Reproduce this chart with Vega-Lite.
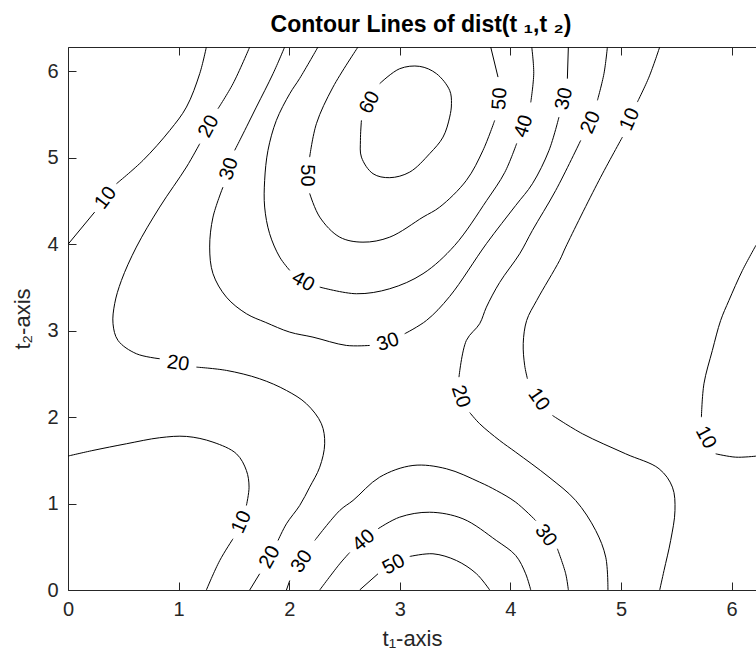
{
  "$schema": "https://vega.github.io/schema/vega-lite/v6.json",
  "width": 688,
  "height": 543,
  "autosize": "none",
  "padding": {"left": 68, "top": 47, "right": 0, "bottom": 74},
  "background": "white",
  "config": {"view": {"stroke": null}, "font": "Liberation Sans"},
  "title": {"text": "Contour Lines of dist(t ₁,t ₂)", "font": "Liberation Sans", "fontSize": 23, "fontWeight": "bold", "color": "#000000", "anchor": "middle", "baseline": "alphabetic", "offset": 17, "dx": 9, "dy": 25},
  "datasets": {
    "lines": [
      {"s":"a1","i":0,"t1":0,"t2":4.0},{"s":"a1","i":1,"t1":0.241,"t2":4.373},
      {"s":"a2","i":0,"t1":0.438,"t2":4.701},{"s":"a2","i":1,"t1":0.678,"t2":4.971},{"s":"a2","i":2,"t1":0.92,"t2":5.318},{"s":"a2","i":3,"t1":1.071,"t2":5.588},{"s":"a2","i":4,"t1":1.191,"t2":5.975},{"s":"a2","i":5,"t1":1.251,"t2":6.283},
      {"s":"b1","i":0,"t1":1.643,"t2":6.283},{"s":"b1","i":1,"t1":1.492,"t2":5.859},{"s":"b1","i":2,"t1":1.356,"t2":5.569},
      {"s":"b2","i":0,"t1":1.191,"t2":5.164},{"s":"b2","i":1,"t1":1.071,"t2":4.894},{"s":"b2","i":2,"t1":0.829,"t2":4.431},{"s":"b2","i":3,"t1":0.618,"t2":3.968},{"s":"b2","i":4,"t1":0.483,"t2":3.582},{"s":"b2","i":5,"t1":0.422,"t2":3.313},{"s":"b2","i":6,"t1":0.407,"t2":3.081},{"s":"b2","i":7,"t1":0.452,"t2":2.888},{"s":"b2","i":8,"t1":0.618,"t2":2.734},{"s":"b2","i":9,"t1":0.829,"t2":2.676},
      {"s":"b3","i":0,"t1":1.161,"t2":2.579},{"s":"b3","i":1,"t1":1.432,"t2":2.541},{"s":"b3","i":2,"t1":1.733,"t2":2.444},{"s":"b3","i":3,"t1":1.975,"t2":2.309},{"s":"b3","i":4,"t1":2.156,"t2":2.155},{"s":"b3","i":5,"t1":2.291,"t2":1.924},{"s":"b3","i":6,"t1":2.321,"t2":1.692},{"s":"b3","i":7,"t1":2.276,"t2":1.421},{"s":"b3","i":8,"t1":2.185,"t2":1.19},{"s":"b3","i":9,"t1":2.095,"t2":0.978},{"s":"b3","i":10,"t1":1.975,"t2":0.766},{"s":"b3","i":11,"t1":1.899,"t2":0.573},
      {"s":"b4","i":0,"t1":1.733,"t2":0.188},{"s":"b4","i":1,"t1":1.643,"t2":0},
      {"s":"c1","i":0,"t1":1.959,"t2":6.283},{"s":"c1","i":1,"t1":1.854,"t2":5.975},{"s":"c1","i":2,"t1":1.703,"t2":5.588},{"s":"c1","i":3,"t1":1.568,"t2":5.241},{"s":"c1","i":4,"t1":1.507,"t2":5.087},
      {"s":"c2","i":0,"t1":1.401,"t2":4.662},{"s":"c2","i":1,"t1":1.311,"t2":4.315},{"s":"c2","i":2,"t1":1.281,"t2":3.968},{"s":"c2","i":3,"t1":1.311,"t2":3.66},{"s":"c2","i":4,"t1":1.432,"t2":3.389},{"s":"c2","i":5,"t1":1.613,"t2":3.197},{"s":"c2","i":6,"t1":1.788,"t2":3.096},{"s":"c2","i":7,"t1":2.005,"t2":2.984},{"s":"c2","i":8,"t1":2.215,"t2":2.926},{"s":"c2","i":9,"t1":2.517,"t2":2.83},{"s":"c2","i":10,"t1":2.728,"t2":2.83},
      {"s":"c3","i":0,"t1":3.044,"t2":2.965},{"s":"c3","i":1,"t1":3.241,"t2":3.119},{"s":"c3","i":2,"t1":3.451,"t2":3.397},{"s":"c3","i":3,"t1":3.783,"t2":4.007},{"s":"c3","i":4,"t1":4.048,"t2":4.45},{"s":"c3","i":5,"t1":4.199,"t2":4.701},{"s":"c3","i":6,"t1":4.349,"t2":5.087},{"s":"c3","i":7,"t1":4.439,"t2":5.472},
      {"s":"c4","i":0,"t1":4.515,"t2":5.917},{"s":"c4","i":1,"t1":4.524,"t2":6.283},
      {"s":"d1","i":0,"t1":2.26,"t2":6.283},{"s":"d1","i":1,"t1":2.095,"t2":5.92},{"s":"d1","i":2,"t1":2.005,"t2":5.743},{"s":"d1","i":3,"t1":1.884,"t2":5.434},{"s":"d1","i":4,"t1":1.808,"t2":5.087},{"s":"d1","i":5,"t1":1.778,"t2":4.74},{"s":"d1","i":6,"t1":1.778,"t2":4.431},{"s":"d1","i":7,"t1":1.823,"t2":4.123},{"s":"d1","i":8,"t1":1.914,"t2":3.852},{"s":"d1","i":9,"t1":2.005,"t2":3.698},
      {"s":"d2","i":0,"t1":2.276,"t2":3.505},{"s":"d2","i":1,"t1":2.608,"t2":3.428},{"s":"d2","i":2,"t1":2.909,"t2":3.486},{"s":"d2","i":3,"t1":3.21,"t2":3.66},{"s":"d2","i":4,"t1":3.496,"t2":3.987},{"s":"d2","i":5,"t1":3.786,"t2":4.508},{"s":"d2","i":6,"t1":3.949,"t2":4.832},{"s":"d2","i":7,"t1":4.057,"t2":5.168},
      {"s":"d3","i":0,"t1":4.184,"t2":5.642},{"s":"d3","i":1,"t1":4.211,"t2":5.978},{"s":"d3","i":2,"t1":4.193,"t2":6.283},
      {"s":"e1","i":0,"t1":2.622,"t2":6.283},{"s":"e1","i":1,"t1":2.396,"t2":5.819},{"s":"e1","i":2,"t1":2.246,"t2":5.396},{"s":"e1","i":3,"t1":2.185,"t2":5.009},
      {"s":"e2","i":0,"t1":2.185,"t2":4.589},{"s":"e2","i":1,"t1":2.276,"t2":4.315},{"s":"e2","i":2,"t1":2.457,"t2":4.083},{"s":"e2","i":3,"t1":2.667,"t2":4.025},{"s":"e2","i":4,"t1":2.909,"t2":4.083},{"s":"e2","i":5,"t1":3.21,"t2":4.315},{"s":"e2","i":6,"t1":3.361,"t2":4.431},{"s":"e2","i":7,"t1":3.602,"t2":4.74},{"s":"e2","i":8,"t1":3.752,"t2":5.087},{"s":"e2","i":9,"t1":3.858,"t2":5.434},
      {"s":"e3","i":0,"t1":3.888,"t2":5.935},{"s":"e3","i":1,"t1":3.822,"t2":6.283},
      {"s":"f1","i":0,"t1":2.818,"t2":5.859},{"s":"f1","i":1,"t1":2.999,"t2":6.032},{"s":"f1","i":2,"t1":3.18,"t2":6.059},{"s":"f1","i":3,"t1":3.331,"t2":5.975},{"s":"f1","i":4,"t1":3.451,"t2":5.781},{"s":"f1","i":5,"t1":3.467,"t2":5.627},{"s":"f1","i":6,"t1":3.451,"t2":5.472},{"s":"f1","i":7,"t1":3.391,"t2":5.241},{"s":"f1","i":8,"t1":3.27,"t2":5.049},{"s":"f1","i":9,"t1":3.09,"t2":4.836},{"s":"f1","i":10,"t1":2.909,"t2":4.771},{"s":"f1","i":11,"t1":2.758,"t2":4.817},{"s":"f1","i":12,"t1":2.653,"t2":5.009},{"s":"f1","i":13,"t1":2.644,"t2":5.203},{"s":"f1","i":14,"t1":2.653,"t2":5.434},
      {"s":"g1","i":0,"t1":1.975,"t2":0},{"s":"g1","i":1,"t1":2.005,"t2":0.11},
      {"s":"g2","i":0,"t1":2.231,"t2":0.573},{"s":"g2","i":1,"t1":2.457,"t2":0.92},{"s":"g2","i":2,"t1":2.577,"t2":1.036},{"s":"g2","i":3,"t1":2.818,"t2":1.306},{"s":"g2","i":4,"t1":3.119,"t2":1.441},{"s":"g2","i":5,"t1":3.421,"t2":1.403},{"s":"g2","i":6,"t1":3.722,"t2":1.248},{"s":"g2","i":7,"t1":3.873,"t2":1.152},{"s":"g2","i":8,"t1":4.048,"t2":1.016},{"s":"g2","i":9,"t1":4.229,"t2":0.804},
      {"s":"g3","i":0,"t1":4.425,"t2":0.477},{"s":"g3","i":1,"t1":4.5,"t2":0.188},{"s":"g3","i":2,"t1":4.524,"t2":0},
      {"s":"h1","i":0,"t1":2.276,"t2":0},{"s":"h1","i":1,"t1":2.457,"t2":0.303},{"s":"h1","i":2,"t1":2.547,"t2":0.434},
      {"s":"h2","i":0,"t1":2.803,"t2":0.708},{"s":"h2","i":1,"t1":2.999,"t2":0.843},{"s":"h2","i":2,"t1":3.27,"t2":0.9},{"s":"h2","i":3,"t1":3.571,"t2":0.824},{"s":"h2","i":4,"t1":3.873,"t2":0.573},{"s":"h2","i":5,"t1":4.048,"t2":0.399},{"s":"h2","i":6,"t1":4.138,"t2":0.188},{"s":"h2","i":7,"t1":4.184,"t2":0},
      {"s":"k1","i":0,"t1":2.637,"t2":0},{"s":"k1","i":1,"t1":2.803,"t2":0.188},
      {"s":"k2","i":0,"t1":3.09,"t2":0.388},{"s":"k2","i":1,"t1":3.3,"t2":0.419},{"s":"k2","i":2,"t1":3.512,"t2":0.341},{"s":"k2","i":3,"t1":3.693,"t2":0.188},{"s":"k2","i":4,"t1":3.813,"t2":0},
      {"s":"m1","i":0,"t1":4.877,"t2":6.283},{"s":"m1","i":1,"t1":4.846,"t2":5.975},{"s":"m1","i":2,"t1":4.787,"t2":5.666},
      {"s":"m2","i":0,"t1":4.636,"t2":5.203},{"s":"m2","i":1,"t1":4.41,"t2":4.624},{"s":"m2","i":2,"t1":4.199,"t2":4.161},{"s":"m2","i":3,"t1":4.084,"t2":3.891},{"s":"m2","i":4,"t1":3.903,"t2":3.559},{"s":"m2","i":5,"t1":3.783,"t2":3.273},{"s":"m2","i":6,"t1":3.722,"t2":3.081},{"s":"m2","i":7,"t1":3.602,"t2":2.888},{"s":"m2","i":8,"t1":3.535,"t2":2.463},
      {"s":"m3","i":0,"t1":3.632,"t2":2.054},{"s":"m3","i":1,"t1":3.722,"t2":1.924},{"s":"m3","i":2,"t1":3.903,"t2":1.73},{"s":"m3","i":3,"t1":4.048,"t2":1.595},{"s":"m3","i":4,"t1":4.349,"t2":1.306},{"s":"m3","i":5,"t1":4.59,"t2":1.036},{"s":"m3","i":6,"t1":4.771,"t2":0.689},{"s":"m3","i":7,"t1":4.862,"t2":0.38},{"s":"m3","i":8,"t1":4.882,"t2":0},
      {"s":"n1","i":0,"t1":5.35,"t2":6.283},{"s":"n1","i":1,"t1":5.253,"t2":5.935},{"s":"n1","i":2,"t1":5.148,"t2":5.646},
      {"s":"n2","i":0,"t1":5.013,"t2":5.241},{"s":"n2","i":1,"t1":4.801,"t2":4.74},{"s":"n2","i":2,"t1":4.5,"t2":3.968},{"s":"n2","i":3,"t1":4.445,"t2":3.814},{"s":"n2","i":4,"t1":4.238,"t2":3.351},{"s":"n2","i":5,"t1":4.147,"t2":3.119},{"s":"n2","i":6,"t1":4.116,"t2":2.853},{"s":"n2","i":7,"t1":4.129,"t2":2.6},{"s":"n2","i":8,"t1":4.154,"t2":2.444},
      {"s":"n3","i":0,"t1":4.38,"t2":2.02},{"s":"n3","i":1,"t1":4.651,"t2":1.808},{"s":"n3","i":2,"t1":5.042,"t2":1.576},{"s":"n3","i":3,"t1":5.344,"t2":1.403},{"s":"n3","i":4,"t1":5.465,"t2":1.19},{"s":"n3","i":5,"t1":5.488,"t2":0.92},{"s":"n3","i":6,"t1":5.449,"t2":0.573},{"s":"n3","i":7,"t1":5.389,"t2":0.226},{"s":"n3","i":8,"t1":5.35,"t2":0},
      {"s":"p1","i":0,"t1":0,"t2":1.55},{"s":"p1","i":1,"t1":0.226,"t2":1.615},{"s":"p1","i":2,"t1":0.528,"t2":1.692},{"s":"p1","i":3,"t1":0.829,"t2":1.762},{"s":"p1","i":4,"t1":1.071,"t2":1.777},{"s":"p1","i":5,"t1":1.311,"t2":1.711},{"s":"p1","i":6,"t1":1.523,"t2":1.576},{"s":"p1","i":7,"t1":1.613,"t2":1.383},{"s":"p1","i":8,"t1":1.637,"t2":1.19},{"s":"p1","i":9,"t1":1.613,"t2":0.978},
      {"s":"p2","i":0,"t1":1.492,"t2":0.593},{"s":"p2","i":1,"t1":1.372,"t2":0.341},{"s":"p2","i":2,"t1":1.251,"t2":0},
      {"s":"q1","i":0,"t1":6.221,"t2":3.99},{"s":"q1","i":1,"t1":6.098,"t2":3.698},{"s":"q1","i":2,"t1":5.976,"t2":3.351},{"s":"q1","i":3,"t1":5.901,"t2":3.119},{"s":"q1","i":4,"t1":5.826,"t2":2.772},{"s":"q1","i":5,"t1":5.75,"t2":2.387},{"s":"q1","i":6,"t1":5.727,"t2":2.0},
      {"s":"q2","i":0,"t1":5.856,"t2":1.576},{"s":"q2","i":1,"t1":6.037,"t2":1.537},{"s":"q2","i":2,"t1":6.221,"t2":1.549}
    ],
    "labels": [
      {"v":"10","t1":0.34,"t2":4.537,"a":-53},
      {"v":"20","t1":1.272,"t2":5.365,"a":-62},
      {"v":"30","t1":1.455,"t2":4.874,"a":-72},
      {"v":"20","t1":0.995,"t2":2.622,"a":8},
      {"v":"40","t1":2.127,"t2":3.571,"a":29},
      {"v":"50","t1":2.158,"t2":4.797,"a":90},
      {"v":"60","t1":2.728,"t2":5.642,"a":-63},
      {"v":"50","t1":3.903,"t2":5.685,"a":-86},
      {"v":"40","t1":4.12,"t2":5.365,"a":-71},
      {"v":"30","t1":4.485,"t2":5.685,"a":-78},
      {"v":"20","t1":4.726,"t2":5.411,"a":-67},
      {"v":"10","t1":5.079,"t2":5.446,"a":-66},
      {"v":"30","t1":2.893,"t2":2.868,"a":-18},
      {"v":"20","t1":3.551,"t2":2.24,"a":72},
      {"v":"10","t1":4.256,"t2":2.205,"a":55},
      {"v":"10","t1":5.766,"t2":1.765,"a":62},
      {"v":"10","t1":1.568,"t2":0.785,"a":-66},
      {"v":"20","t1":1.824,"t2":0.38,"a":-61},
      {"v":"30","t1":2.113,"t2":0.33,"a":-56},
      {"v":"40","t1":2.674,"t2":0.573,"a":-40},
      {"v":"50","t1":2.945,"t2":0.295,"a":-28},
      {"v":"30","t1":4.319,"t2":0.631,"a":53}
    ]
  },
  "layer": [
    {
      "data": {"name": "lines"},
      "mark": {"type": "line", "color": "#000000", "strokeWidth": 1, "clip": true, "interpolate": "catmull-rom"},
      "encoding": {
        "x": {"field": "t1", "type": "quantitative", "scale": {"domain": [0, 6.2206], "nice": false, "zero": false},
          "axis": {"orient": "bottom", "values": [0,1,2,3,4,5,6], "format": "d", "grid": false, "tickSize": -8, "tickColor": "#262626", "tickWidth": 1, "domainColor": "#262626", "domainWidth": 1, "labelFont": "Liberation Sans", "labelFontSize": 20, "labelColor": "#262626", "labelPadding": 17, "labelFlush": false, "labelOverlap": false, "title": "t₁-axis", "titleFont": "Liberation Sans", "titleFontSize": 22, "titleFontWeight": "normal", "titleColor": "#262626", "titlePadding": 9}},
        "y": {"field": "t2", "type": "quantitative", "scale": {"domain": [0, 6.2832], "nice": false, "zero": false},
          "axis": {"orient": "left", "values": [0,1,2,3,4,5,6], "format": "d", "grid": false, "tickSize": -8, "tickColor": "#262626", "tickWidth": 1, "domainColor": "#262626", "domainWidth": 1, "labelFont": "Liberation Sans", "labelFontSize": 20, "labelColor": "#262626", "labelPadding": 18, "labelFlush": false, "labelOverlap": false, "title": "t₂-axis", "titleFont": "Liberation Sans", "titleFontSize": 22, "titleFontWeight": "normal", "titleColor": "#262626", "titlePadding": 12}},
        "detail": {"field": "s", "type": "nominal"},
        "order": {"field": "i", "type": "quantitative"}
      }
    },
    {
      "data": {"name": "labels"},
      "mark": {"type": "text", "font": "Liberation Sans", "fontSize": 20, "color": "#000000", "align": "center", "baseline": "middle"},
      "encoding": {
        "x": {"field": "t1", "type": "quantitative", "scale": {"domain": [0, 6.2206], "nice": false, "zero": false},
          "axis": {"orient": "top", "values": [0,1,2,3,4,5,6], "grid": false, "tickSize": -8, "tickColor": "#262626", "tickWidth": 1, "domainColor": "#262626", "domainWidth": 1, "labels": false, "title": null}},
        "y": {"field": "t2", "type": "quantitative", "scale": {"domain": [0, 6.2832], "nice": false, "zero": false},
          "axis": {"orient": "left", "values": [0,1,2,3,4,5,6], "format": "d", "grid": false, "tickSize": -8, "tickColor": "#262626", "tickWidth": 1, "domainColor": "#262626", "domainWidth": 1, "labelFont": "Liberation Sans", "labelFontSize": 20, "labelColor": "#262626", "labelPadding": 18, "labelFlush": false, "labelOverlap": false, "title": "t₂-axis", "titleFont": "Liberation Sans", "titleFontSize": 22, "titleFontWeight": "normal", "titleColor": "#262626", "titlePadding": 12}},
        "text": {"field": "v", "type": "nominal"},
        "angle": {"field": "a", "type": "quantitative", "scale": null}
      }
    }
  ],
  "resolve": {"axis": {"x": "independent"}}
}
